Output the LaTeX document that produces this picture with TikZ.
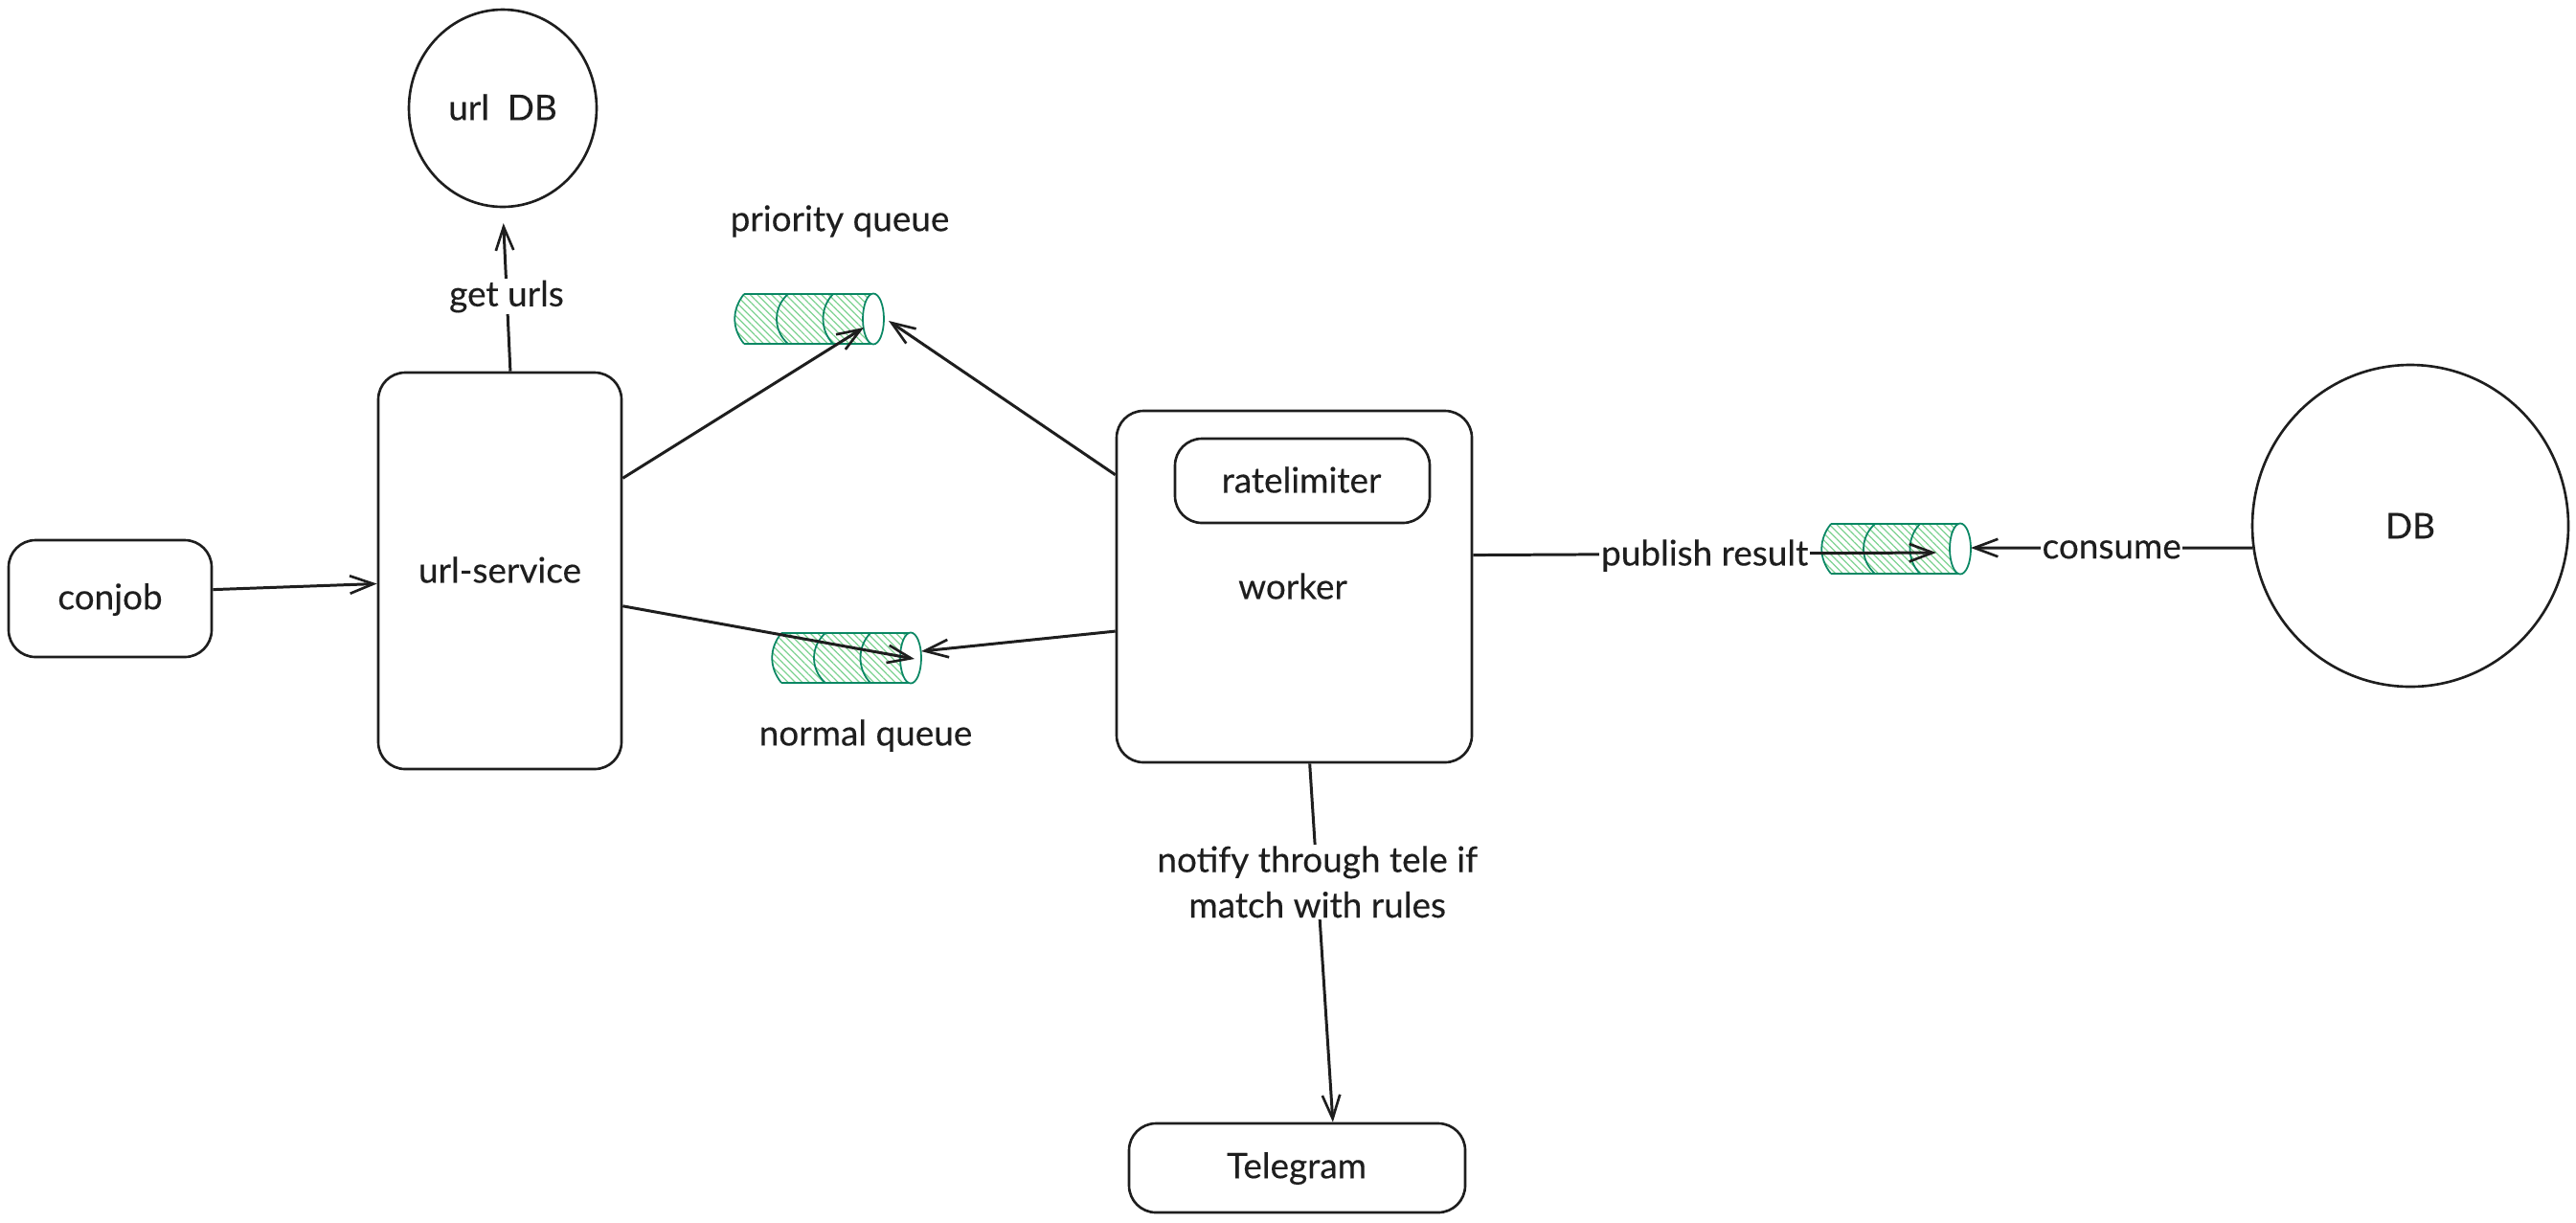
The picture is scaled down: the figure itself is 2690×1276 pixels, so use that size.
\documentclass[tikz,border=0pt]{standalone}
\usepackage{fontspec}
\setmainfont[FakeBold=0.25]{Lato}
\usetikzlibrary{arrows.meta,shapes.geometric,patterns.meta}

\definecolor{ink}{RGB}{30,30,30}
\definecolor{qline}{RGB}{10,135,100}
\definecolor{qhatch}{RGB}{125,210,145}

\tikzset{
  box/.style={draw=ink, line width=1.5pt, rounded corners=16pt, inner sep=0pt},
  db/.style={draw=ink, ellipse, line width=1.5pt, inner sep=0pt},
  lbl/.style={text=ink, font=\fontsize{21}{27}\selectfont, align=center, inner sep=1pt},
  cut/.style={lbl, fill=white},
  link/.style={draw=ink, line width=1.7pt, -{Straight Barb[length=14pt,width=10.5pt,line width=1.5pt]}},
  queue/.pic={
    \path[pattern={Lines[angle=-45,distance=3pt,line width=0.7pt]}, pattern color=qhatch]
      (10,-26) -- (145,-26) -- (145,26) -- (10,26) .. controls (-3,10) and (-3,-10) .. (10,-26);
    \draw[qline, line width=1pt] (10,-26) -- (145,-26);
    \draw[qline, line width=1pt] (10,26) -- (145,26);
    \draw[qline, line width=1pt] (10,-26) .. controls (-3,-10) and (-3,10) .. (10,26);
    \draw[qline, line width=1pt] (56,-26) .. controls (40,-12) and (40,12) .. (56,26);
    \draw[qline, line width=1pt] (103,-26) .. controls (89,-12) and (89,12) .. (103,26);
    \draw[qline, line width=1pt, fill=white] (145,0) ellipse [x radius=11, y radius=26.5];
  }
}

\begin{document}
\begin{tikzpicture}[x=0.02cm, y=-0.02cm]

\useasboundingbox (0,0) rectangle (2690,1276);

\node [db, minimum width=196*0.02cm, minimum height=206*0.02cm] (urldb) at (525,113) {};
\node [db, minimum width=330*0.02cm, minimum height=336*0.02cm] (db) at (2517,549) {};

\node [box, minimum width=212*0.02cm, minimum height=122*0.02cm] (conjob) at (115,625) {};
\node [box, minimum width=254*0.02cm, minimum height=414*0.02cm] (urlservice) at (522,596) {};
\node [box, minimum width=371*0.02cm, minimum height=367*0.02cm] (worker) at (1351.5,612.5) {};
\node [box, minimum width=266*0.02cm, minimum height=88*0.02cm] (ratelimiter) at (1360,502) {};
\node [box, minimum width=351*0.02cm, minimum height=93*0.02cm] (telegram) at (1354.5,1219.5) {};

\node [lbl] (urldbtxt) at (525,112) {url\ \ DB};
\node [lbl] (dbtxt) at (2517,549) {DB};
\node [lbl] (conjobtxt) at (115,626) {conjob};
\node [lbl] (urlservicetxt) at (522,595) {url-service};
\node [lbl] (ratelimitertxt) at (1359,501) {ratelimiter};
\node [lbl] (workertxt) at (1350,612) {worker};
\node [lbl] (telegramtxt) at (1354,1220) {Telegram};
\node [lbl] (prioritytxt) at (877,231) {priority queue};
\node [lbl] (normaltxt) at (904,768) {normal queue};

\pic at (767,333) {queue};
\pic at (806,687) {queue};
\pic at (1902,573) {queue};

\coordinate (pqin) at (902,342);
\coordinate (pqtip) at (928,335);
\coordinate (nqin) at (955,688);
\coordinate (nqtip) at (962,680);
\coordinate (rqin) at (2022,577);
\coordinate (rqtip) at (2058,572);

\draw [link] (conjob.5) -- (urlservice.186.7);
\draw [link, shorten >=9pt] (urlservice.87.2) -- node [cut, yshift=-4pt] (geturls) {get urls} (urldb.south);
\draw [link] (urlservice.37) -- (pqin);
\draw [link] (urlservice.-16) -- (nqin);
\draw [link] (worker.148.8) -- (pqtip);
\draw [link] (worker.194.4) -- (nqtip);
\draw [link] (worker.10.2) -- node [cut, yshift=-1pt] (publish) {publish result} (rqin);
\draw [link] (db.188) -- node [cut, yshift=-1pt] (consume) {consume} (rqtip);
\draw [link] (worker.-85) -- node [cut, pos=0.33] (notify) {notify through tele if\\match with rules} (telegram.52);

\end{tikzpicture}
\end{document}
